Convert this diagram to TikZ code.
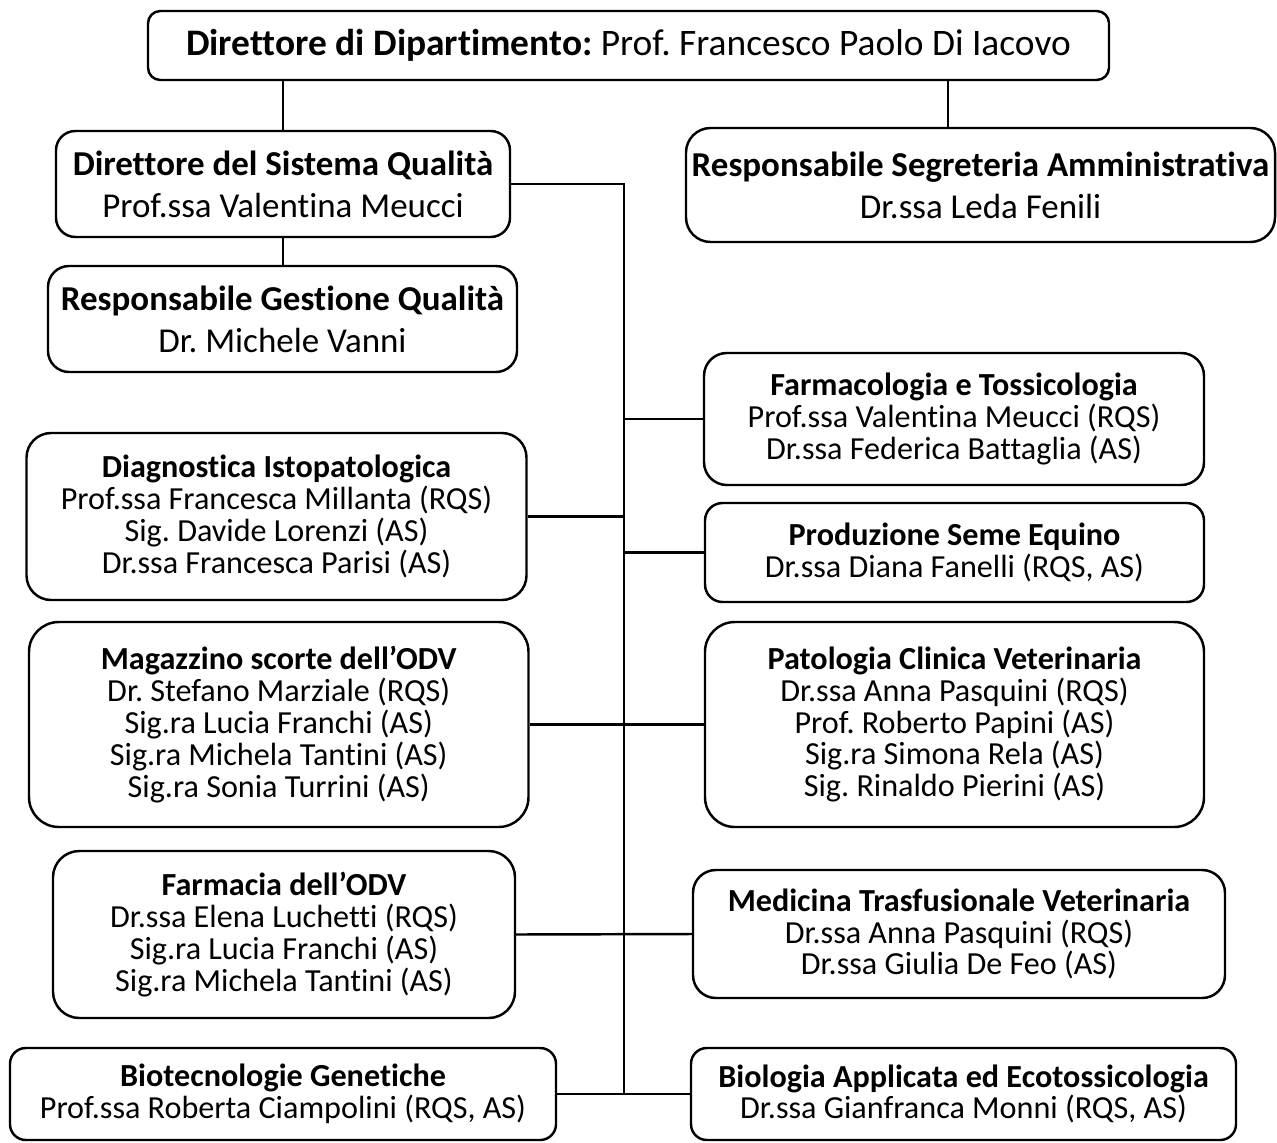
\documentclass[tikz,border=0pt]{standalone}
\usepackage{fontspec}
\setmainfont{Carlito}[Ligatures=NoCommon]
\frenchspacing
\begin{document}
\begin{tikzpicture}[x=0.02cm, y=-0.02cm, line width=1.4pt,
    boxsize/.style 2 args={minimum width=#1*0.02cm, minimum height=#2*0.02cm},
    headbox/.style={draw, rounded corners=#1, inner sep=0pt, align=center,
        font=\fontsize{19.9}{23.8}\selectfont},
    unitbox/.style={draw, rounded corners=#1, inner sep=0pt, align=center,
        font=\fontsize{18.3}{18.1}\selectfont}]
    \useasboundingbox (0,0) rectangle (1277,1142);

    % Direzione
    \node[headbox=7pt, boxsize={961}{69}, font=\fontsize{21.3}{24}\selectfont] (dir) at (628.5,45.5)
        {\textbf{Direttore di Dipartimento:} Prof. Francesco Paolo Di Iacovo};
    \node[headbox=11pt, boxsize={454}{106}] (dsq) at (283,184)
        {\textbf{Direttore del Sistema Qualità}\\Prof.ssa Valentina Meucci};
    \node[headbox=12pt, boxsize={469}{106}] (rgq) at (282.5,319)
        {\textbf{Responsabile Gestione Qualità}\\Dr. Michele Vanni};
    \node[headbox=14pt, boxsize={589}{114}] (rsa) at (980.5,185)
        {\textbf{Responsabile Segreteria Amministrativa}\\Dr.ssa Leda Fenili};

    % Unita a sinistra
    \node[unitbox=14pt, boxsize={500}{167}] (dip) at (276.5,516.5)
        {\textbf{Diagnostica Istopatologica}\\Prof.ssa Francesca Millanta (RQS)\\Sig. Davide Lorenzi (AS)\\Dr.ssa Francesca Parisi (AS)};
    \node[unitbox=17pt, boxsize={499.5}{205}] (msc) at (278.75,724.5)
        {\textbf{Magazzino scorte dell’ODV}\\Dr. Stefano Marziale (RQS)\\Sig.ra Lucia Franchi (AS)\\Sig.ra Michela Tantini (AS)\\Sig.ra Sonia Turrini (AS)};
    \node[unitbox=15pt, boxsize={462}{167}] (fod) at (284,934.5)
        {\textbf{Farmacia dell’ODV}\\Dr.ssa Elena Luchetti (RQS)\\Sig.ra Lucia Franchi (AS)\\Sig.ra Michela Tantini (AS)};
    \node[unitbox=9pt, boxsize={546}{92}] (bge) at (283,1094)
        {\textbf{Biotecnologie Genetiche}\\Prof.ssa Roberta Ciampolini (RQS, AS)};

    % Unita a destra
    \node[unitbox=13pt, boxsize={500}{132}] (fto) at (954,419)
        {\textbf{Farmacologia e Tossicologia}\\Prof.ssa Valentina Meucci (RQS)\\Dr.ssa Federica Battaglia (AS)};
    \node[unitbox=10pt, boxsize={499}{99}] (pse) at (954.5,552.5)
        {\textbf{Produzione Seme Equino}\\Dr.ssa Diana Fanelli (RQS, AS)};
    \node[unitbox=17pt, boxsize={499}{205}] (pcv) at (954.5,724.5)
        {\textbf{Patologia Clinica Veterinaria}\\Dr.ssa Anna Pasquini (RQS)\\Prof. Roberto Papini (AS)\\Sig.ra Simona Rela (AS)\\Sig. Rinaldo Pierini (AS)};
    \node[unitbox=13pt, boxsize={532}{128}] (mtv) at (959,934)
        {\textbf{Medicina Trasfusionale Veterinaria}\\Dr.ssa Anna Pasquini (RQS)\\Dr.ssa Giulia De Feo (AS)};
    \node[unitbox=9pt, boxsize={545}{92}] (bae) at (963.5,1094)
        {\textbf{Biologia Applicata ed Ecotossicologia}\\Dr.ssa Gianfranca Monni (RQS, AS)};

    % Collegamenti
    \coordinate (trunk) at (624,0);
    \coordinate (rsajoin) at (948,0);
    \draw (dsq.north) -- (dsq.north |- dir.south);
    \draw (rsajoin |- dir.south) -- (rsajoin |- rsa.north);
    \draw (dsq.south) -- (dsq.south |- rgq.north);
    \draw (dsq.east) -- (dsq.east -| trunk) -- (bge.east -| trunk);
    \draw (fto.west) -- (fto.west -| trunk);
    \draw (dip.east) -- (dip.east -| trunk);
    \draw (pse.west) -- (pse.west -| trunk);
    \draw (msc.east) -- (pcv.west);
    \draw (fod.east) -- (mtv.west);
    \draw (bge.east) -- (bae.west);
\end{tikzpicture}
\end{document}
